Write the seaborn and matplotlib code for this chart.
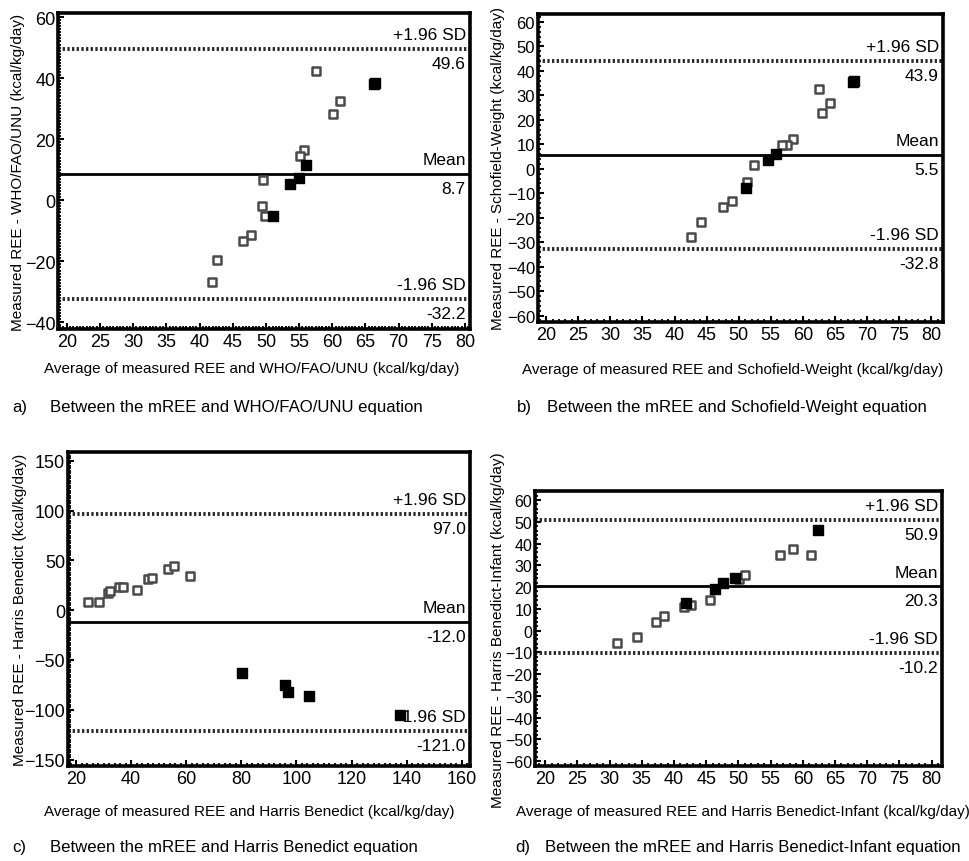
import matplotlib
matplotlib.use('Agg')
import matplotlib.pyplot as plt
import matplotlib.transforms as mtransforms
from matplotlib.ticker import AutoMinorLocator
import seaborn as sns
import numpy as np

# Panel a: WHO/FAO/UNU
a_open_x = [57.6, 60.1, 61.2, 55.7, 55.1, 49.6, 49.4, 49.9, 47.7, 46.5, 42.7, 41.9]
a_open_y = [42.2, 28.3, 32.4, 16.6, 14.4, 6.7, -1.9, -5.2, -11.3, -13.4, -19.5, -26.7]
a_fill_x = [66.3, 66.5, 51.0, 53.7, 55.0, 56.0]
a_fill_y = [38.1, 38.5, -5.0, 5.4, 7.2, 11.4]
a_loa = [49.6, 8.7, -32.2]

# Panel b: Schofield-Weight
b_open_x = [62.5, 62.9, 64.2, 58.4, 57.5, 56.7, 52.4, 51.3, 48.9, 47.5, 44.1, 42.6]
b_open_y = [32.7, 22.9, 26.7, 12.0, 9.8, 9.8, 1.7, -5.5, -13.1, -15.8, -21.9, -27.9]
b_fill_x = [67.8, 68.0, 51.1, 54.6, 55.8]
b_fill_y = [35.4, 35.9, -7.9, 3.8, 6.0]
b_loa = [43.9, 5.5, -32.8]

# Panel c: Harris Benedict
c_open_x = [24.2, 28.2, 31.5, 32.4, 35.5, 37.0, 42.1, 46.1, 47.6, 53.3, 55.4, 61.2]
c_open_y = [8.6, 8.6, 17.0, 19.7, 23.0, 23.0, 20.7, 31.4, 32.4, 41.5, 44.2, 34.1]
c_fill_x = [80.1, 95.9, 97.1, 104.6, 137.6]
c_fill_y = [-62.6, -75.0, -81.7, -86.1, -105.6]
c_loa = [97.0, -12.0, -121.0]

# Panel d: Harris Benedict-Infant
d_open_x = [31.2, 34.2, 37.2, 38.5, 41.5, 42.6, 45.6, 50.1, 51.1, 56.5, 58.5, 61.3]
d_open_y = [-5.6, -2.7, 4.1, 6.7, 11.0, 11.7, 14.0, 23.8, 25.7, 35.0, 37.6, 35.0]
d_fill_x = [41.8, 46.4, 47.6, 49.4, 62.4]
d_fill_y = [12.5, 19.2, 22.0, 24.3, 46.1]
d_loa = [50.9, 20.3, -10.2]

loa_names = ['+1.96 SD', 'Mean', '-1.96 SD']

sns.set_style('ticks')
plt.rcParams['font.family'] = ['Liberation Sans', 'DejaVu Sans']
plt.rcParams['text.color'] = 'black'
plt.rcParams['axes.labelcolor'] = 'black'
plt.rcParams['xtick.color'] = 'black'
plt.rcParams['ytick.color'] = 'black'


def draw_panel(ax, open_x, open_y, fill_x, fill_y, loa, xlim, ylim, xticks, yticks,
               xminor, yminor, xlabel, ylabel, xlab_pos, ylab_pos, ytick_size=13):
    """ Bland-Altman style panel. """
    # limits of agreement and mean
    ax.axhline(loa[0], color='#2a2a2a', lw=2.8, ls=(0, (0.6, 0.6)), zorder=1)
    ax.axhline(loa[1], color='black', lw=2.0, zorder=1)
    ax.axhline(loa[2], color='#2a2a2a', lw=2.8, ls=(0, (0.6, 0.6)), zorder=1)

    sns.scatterplot(ax=ax, x=open_x, y=open_y, marker='s', s=38, color='white',
                    edgecolor='#4a4a4a', linewidth=1.8, zorder=3)
    sns.scatterplot(ax=ax, x=fill_x, y=fill_y, marker='s', s=46, color='black',
                    edgecolor='black', linewidth=1.0, zorder=4)

    trans = mtransforms.blended_transform_factory(ax.transAxes, ax.transData)
    for name, val in zip(loa_names, loa):
        ax.annotate(name, xy=(0.99, val), xycoords=trans, xytext=(0, 5),
                    textcoords='offset points', ha='right', va='bottom', fontsize=12.5)
        ax.annotate(f'{val:.1f}', xy=(0.99, val), xycoords=trans, xytext=(0, -5),
                    textcoords='offset points', ha='right', va='top', fontsize=12.5)

    ax.set_xlim(xlim)
    ax.set_ylim(ylim)
    ax.set_xticks(xticks)
    ax.set_yticks(yticks)
    ax.xaxis.set_minor_locator(AutoMinorLocator(xminor))
    ax.yaxis.set_minor_locator(AutoMinorLocator(yminor))
    ax.tick_params(which='major', direction='in', length=4, width=1.5, labelsize=13, pad=3)
    ax.tick_params(axis='y', which='major', labelsize=ytick_size, pad=2)
    ax.tick_params(which='minor', direction='in', length=2.5, width=1.3)
    for sp in ax.spines.values():
        sp.set_linewidth(2.6)
        sp.set_color('black')
    ax.set_xlabel(xlabel, fontsize=11)
    ax.set_ylabel(ylabel, fontsize=11)
    ax.xaxis.set_label_coords(*xlab_pos)
    ax.yaxis.set_label_coords(*ylab_pos)


fig = plt.figure(figsize=(9.69, 8.62), dpi=100)
ax_a = fig.add_axes([0.060, 0.617, 0.425, 0.367])
ax_b = fig.add_axes([0.555, 0.625, 0.418, 0.358])
ax_c = fig.add_axes([0.070, 0.110, 0.415, 0.3645])
ax_d = fig.add_axes([0.552, 0.110, 0.420, 0.319])

draw_panel(ax_a, a_open_x, a_open_y, a_fill_x, a_fill_y, a_loa,
           (18.7, 80.75), (-42.2, 61.4), np.arange(20, 81, 5), np.arange(-40, 61, 20),
           10, 20,
           'Average of measured REE and WHO/FAO/UNU (kcal/kg/day)',
           'Measured REE - WHO/FAO/UNU (kcal/kg/day)',
           (0.47, -0.101), (-0.080, 0.5))
draw_panel(ax_b, b_open_x, b_open_y, b_fill_x, b_fill_y, b_loa,
           (18.7, 81.8), (-62.7, 63.4), np.arange(20, 81, 5), np.arange(-60, 61, 10),
           5, 5,
           'Average of measured REE and Schofield-Weight (kcal/kg/day)',
           'Measured REE - Schofield-Weight (kcal/kg/day)',
           (0.48, -0.128), (-0.080, 0.5), ytick_size=12)
draw_panel(ax_c, c_open_x, c_open_y, c_fill_x, c_fill_y, c_loa,
           (17.0, 163.0), (-156.7, 159.0), np.arange(20, 161, 20), np.arange(-150, 151, 50),
           10, 20,
           'Average of measured REE and Harris Benedict (kcal/kg/day)',
           'Measured REE - Harris Benedict (kcal/kg/day)',
           (0.45, -0.121), (-0.102, 0.5))
draw_panel(ax_d, d_open_x, d_open_y, d_fill_x, d_fill_y, d_loa,
           (18.4, 81.6), (-62.3, 64.1), np.arange(20, 81, 5), np.arange(-60, 61, 10),
           5, 5,
           'Average of measured REE and Harris Benedict-Infant (kcal/kg/day)',
           'Measured REE - Harris Benedict-Infant (kcal/kg/day)',
           (0.51, -0.138), (-0.074, 0.5), ytick_size=11.5)

# Captions
captions = [('a)', 'Between the mREE and WHO/FAO/UNU equation', 12, 50, 408),
            ('b)', 'Between the mREE and Schofield-Weight equation', 517, 547, 408),
            ('c)', 'Between the mREE and Harris Benedict equation', 12, 50, 848),
            ('d)', 'Between the mREE and Harris Benedict-Infant equation', 515, 545, 848)]
W, H = 969, 862
for tag, txt, x0, x1, y in captions:
    fig.text(x0 / W, 1 - y / H, tag, fontsize=12.1, va='center', ha='left')
    fig.text(x1 / W, 1 - y / H, txt, fontsize=12.1, va='center', ha='left')

plt.savefig('out.png', dpi=100)
